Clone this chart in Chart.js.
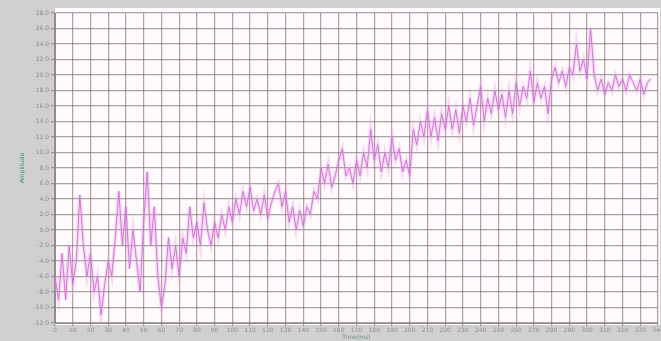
<!DOCTYPE html>
<html>
<head>
<meta charset="utf-8">
<script src="https://cdn.jsdelivr.net/npm/chart.js@4/dist/chart.umd.min.js"></script>
<style>
  html, body { margin: 0; padding: 0; background: #d0d0d0; }
  #wrap { width: 661px; height: 341px; position: relative; }
</style>
</head>
<body>
<div id="wrap"><canvas id="signalChart"></canvas></div>
<script>
// sample spacing along the time axis
const sampleStep = 2;

// amplitude, one value per sample
const amplitude = [
  -6, -9, -3, -9, -2, -7, -4, 4.5, -2, -6,
  -3, -8, -6, -11, -7, -4, -6, -1, 5, -2,
  3, -5, 0, -4, -8, 1, 7.5, -2, 3, -6,
  -10, -7, -1, -5, -2, -6, -1, -3, 3, -1,
  1, -2, 3.5, 0, -2, 1, -1, 2, 0, 3,
  1, 4, 2, 5, 3, 5.5, 2.5, 4, 2, 4.5,
  1.5, 3.5, 5, 6, 3, 5, 1, 3, 0, 2.5,
  0.5, 3, 2, 5, 4, 8, 6, 8.5, 5.5, 7,
  9, 10.5, 7, 8, 6, 9, 7, 10, 8, 13,
  9, 11, 7.5, 10, 8, 12, 9, 10.5, 7.5, 9,
  7, 13, 11, 14, 12, 15.5, 12, 14.5, 11.5, 15,
  13, 16, 13, 15.5, 12.5, 16, 14, 17, 13.5, 16,
  18.5, 14, 17, 15, 18, 15.5, 17.5, 14.5, 18, 15,
  19, 16, 18.5, 17, 20.5, 16.5, 19, 17, 18.5, 15,
  19.5, 21, 19, 20.5, 18.5, 21, 20, 24, 20.5, 22,
  19.5, 26, 20, 18, 19.5, 17.5, 19, 18, 20, 18.5,
  19.5, 18, 20, 19, 18, 19.5, 17.5, 19, 19.5
];

const yTicks = { min: -12, max: 28, step: 2 };
const xTicks = { min: 0, max: 340, step: 10 };

const xTitle = 'Time(ms)';
const yTitle = 'Amplitude';

const points = amplitude.map((v, i) => ({ x: i * sampleStep, y: v }));

// plot background + outer grey frame
const backdrop = {
    id: 'backdrop',
    beforeDraw(chart) {
        const { ctx, chartArea: a, width, height } = chart;
        ctx.save();
        ctx.fillStyle = '#d0d0d0';
        ctx.fillRect(0, 0, width, height);
        ctx.fillStyle = '#fffafb';
        ctx.fillRect(a.left, a.top - 5, a.right - a.left + 2, a.bottom - a.top + 7);
        ctx.restore();
    }
};

new Chart(document.getElementById('signalChart'), {
    type: 'line',
    data: {
        datasets: [
            {
                // soft pink halo under the trace
                data: points,
                borderColor: 'rgba(238, 165, 238, 0.4)',
                borderWidth: 3.5,
                pointRadius: 0,
                tension: 0
            },
            {
                data: points,
                borderColor: '#b946c6',
                borderWidth: 0.9,
                pointRadius: 0,
                tension: 0
            }
        ]
    },
    options: {
        responsive: true,
        maintainAspectRatio: false,
        animation: false,
        layout: { padding: { top: 13, right: 3, left: 0, bottom: 0 } },
        plugins: {
            legend: { display: false },
            tooltip: { enabled: false }
        },
        scales: {
            x: {
                type: 'linear',
                min: xTicks.min,
                max: xTicks.max,
                grid: { color: 'rgba(130, 95, 105, 0.6)', lineWidth: 1.2, tickLength: 3 },
                border: { color: '#8a8a8a' },
                ticks: {
                    stepSize: xTicks.step,
                    autoSkip: false,
                    maxRotation: 0,
                    padding: 1,
                    color: '#8c8c8c',
                    font: { family: 'DejaVu Sans', size: 6 }
                },
                title: {
                    display: true,
                    text: xTitle,
                    color: '#6f8f80',
                    padding: 0,
                    font: { family: 'DejaVu Sans', size: 6 }
                },
                afterFit(scale) {
                    scale.height = 18;
                    scale.paddingLeft = 0;
                    scale.paddingRight = 0;
                }
            },
            y: {
                min: yTicks.min,
                max: yTicks.max,
                grid: { color: 'rgba(110, 105, 108, 0.6)', lineWidth: 1.2, tickLength: 4 },
                border: { color: '#8a8a8a' },
                ticks: {
                    stepSize: yTicks.step,
                    autoSkip: false,
                    padding: 2,
                    color: '#8c8c8c',
                    font: { family: 'DejaVu Sans', size: 6 },
                    callback: v => v.toFixed(1)
                },
                title: {
                    display: true,
                    text: yTitle,
                    color: '#3f8f6c',
                    padding: { top: 19, bottom: 0 },
                    font: { family: 'DejaVu Sans', size: 6 }
                },
                afterFit(scale) {
                    scale.width = 55;
                }
            }
        }
    },
    plugins: [backdrop]
});
</script>
</body>
</html>
